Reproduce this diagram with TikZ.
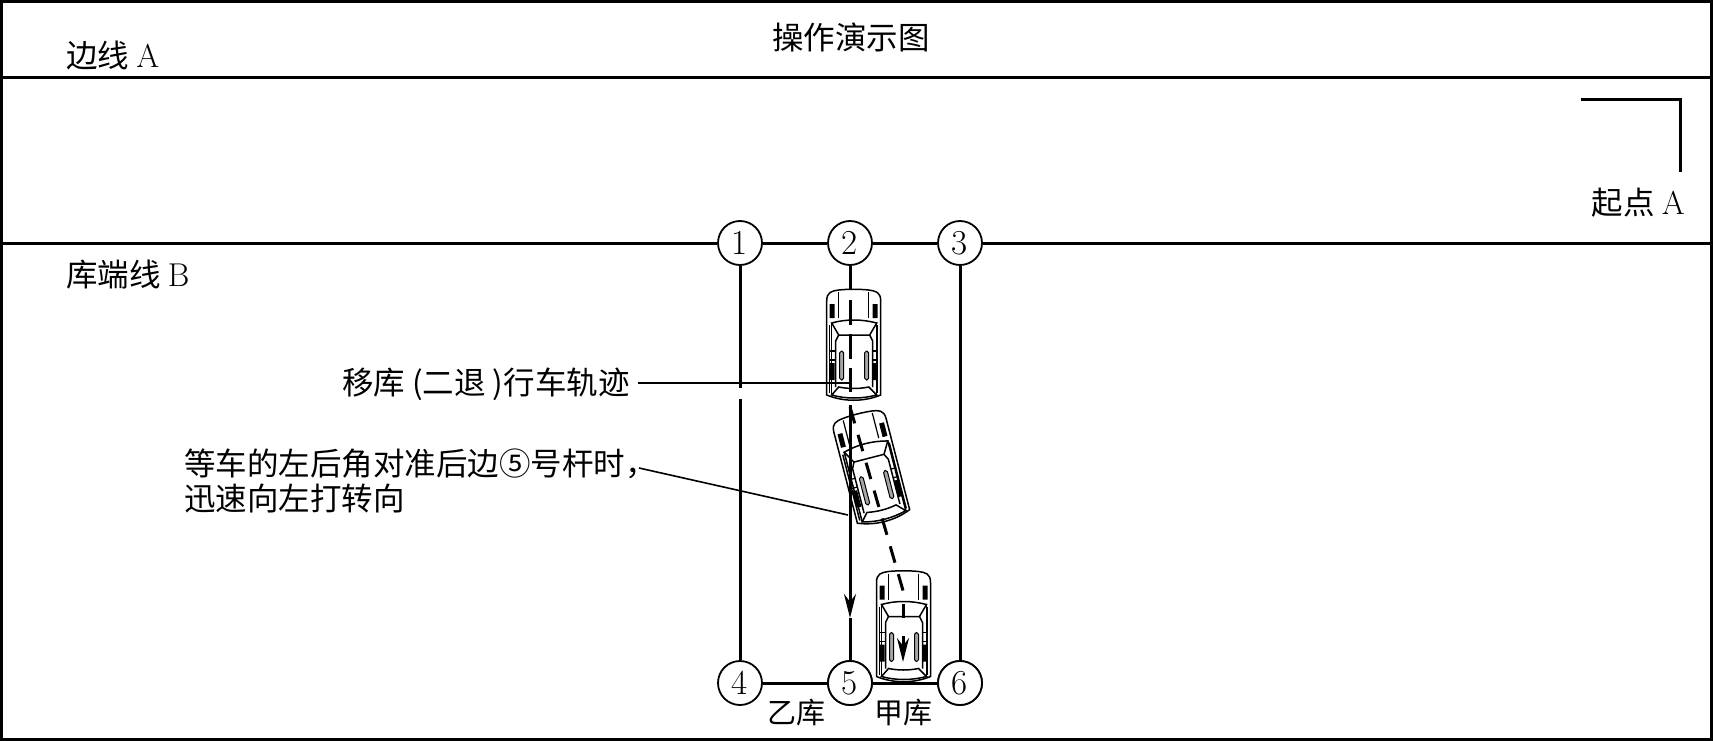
\documentclass[tikz,border=0pt]{standalone}
\usepackage{fontspec}
\newfontfamily\cjk{Noto Sans CJK SC}
\usetikzlibrary{arrows.meta}
\newcommand{\lat}[1]{{\rmfamily\fontsize{33}{35}\selectfont #1}}
\tikzset{
  lab/.style={font=\cjk\fontsize{31.5}{35}\selectfont, inner sep=0pt, align=left},
  labsmall/.style={font=\cjk\fontsize{29}{35}\selectfont, inner sep=0pt},
  post/.style={circle, draw, fill=white, line width=1.8pt, minimum size=44pt, inner sep=0pt, font=\fontsize{35}{35}\selectfont},
  wall/.style={line width=3pt},
  leader/.style={line width=1.6pt},
  trackA/.style={line width=3pt, dash pattern=on 25pt off 9pt},
  trackB/.style={line width=3pt, dash pattern=on 17pt off 12pt},
  headtip/.style={-{Stealth[length=24pt,width=12pt]}},
  car/.pic={
    \draw[line width=1.5pt, fill=white] (-27,48) -- (-27,-44) .. controls (-27,-53) and (-22,-54) .. (-15,-55) .. controls (-5,-56) and (5,-56) .. (15,-55) .. controls (22,-54) and (27,-53) .. (27,-44) -- (27,50) .. controls (10,57) and (-10,57) .. (-27,50) -- cycle;
    \draw[line width=1.2pt] (-15,-53) -- (-15,-27) (15,-53) -- (15,-27);
    \fill (-24,-41) rectangle (-19,-27) (19,-41) rectangle (24,-27) (-24,18) rectangle (-19,35) (19,18) rectangle (24,35);
    \draw[line width=1.5pt] (-24,-20) -- (-24,48) (24,-20) -- (24,48);
    \draw[line width=1.5pt] (-22,-22) .. controls (-8,-26) and (8,-26) .. (23,-22) -- (16,-10) -- (-15,-10) -- cycle;
    \draw[line width=1.5pt] (-22,-22) -- (-22,50) (23,-22) -- (23,50);
    \draw[line width=1.5pt] (-15,-10) -- (-18,-4) -- (-18,42) (16,-10) -- (19,-4) -- (19,42);
    \draw[line width=1.5pt] (-22,50) .. controls (-8,54) and (8,54) .. (23,50) -- (15,42) .. controls (5,44) and (-5,44) .. (-15,42) -- cycle;
    \draw[line width=1pt, fill=gray!70, rounded corners=1.8pt] (-14,6) rectangle (-10,35) (11,6) rectangle (15,35);
    \draw[line width=1.2pt] (-24,6) -- (-18,6) (-24,15) -- (-18,15) (24,6) -- (19,6) (24,15) -- (19,15);
  }
}
\begin{document}
\begin{tikzpicture}[x=1pt,y=-1pt]
\useasboundingbox (0,0) rectangle (1713,741);
\draw[wall] (1.5,1.5) rectangle (1711.5,739.5);

% posts
\node[post] (p1) at (740,243) {1};
\node[post] (p2) at (850,243) {2};
\node[post] (p3) at (960,243) {3};
\node[post] (p4) at (740,683) {4};
\node[post] (p5) at (850,683) {5};
\node[post] (p6) at (960,683) {6};

% named free ends
\coordinate (aL) at (0,77.5);
\coordinate (aR) at (1713,77.5);
\coordinate (bL) at (0,243);
\coordinate (bR) at (1713,243);
\coordinate (startA) at (1581,99.5);
\coordinate (startB) at (1680,99.5);
\coordinate (startC) at (1680,172);
\coordinate (gapT) at (740,388);
\coordinate (gapB) at (740,399);
\coordinate (carTop) at (850,292);
\coordinate (lineResume) at (850,405);
\coordinate (arrowEnd) at (850,618);
\coordinate (trA) at (850,300);
\coordinate (trB) at (850,392);
\coordinate (trB2) at (850,407);
\coordinate (trC) at (904,594);
\coordinate (trD) at (903,604);
\coordinate (trD2) at (903,618);
\coordinate (trD3) at (903,636);
\coordinate (trE) at (903,662);

% main lines
\draw[wall] (aL) -- (aR);
\draw[wall] (bL) -- (p1) (p1) -- (p2) (p2) -- (p3) (p3) -- (bR);
\draw[wall] (startA) -- (startB) -- (startC);
\draw[wall] (p1) -- (gapT) (gapB) -- (p4);
\draw[wall] (p3) -- (p6);
\draw[wall] (p4) -- (p5) (p5) -- (p6);
\draw[wall] (p2) -- (carTop);

% cars
\pic at (853.7,345) {car};
\pic[rotate=14.5] at (871,468) {car};
\pic at (903.5,626.5) {car};

% solid track on top of the second car
\draw[wall,headtip] (lineResume) -- (arrowEnd);
\draw[wall] (arrowEnd) -- (p5);

% dashed track
\draw[trackA] (trA) -- (trB);
\draw[trackB] (trB2) -- (trC);
\draw[wall] (trD) -- (trD2);
\draw[wall,headtip] (trD3) -- (trE);

% posts redrawn above car edges
\node[post] at (p5) {5};
\node[post] at (p6) {6};

% labels
\node[lab] (title) at (851,37) {操作演示图};
\node[lab,anchor=west] (edgeA) at (66,56) {边线 \lat{A}};
\node[lab,anchor=west] (edgeB) at (66,275) {库端线 \lat{B}};
\node[lab,anchor=east] (startlab) at (1685,203) {起点 \lat{A}};
\node[lab,anchor=west] (move) at (342,384) {移库 (二退 )行车轨迹};
\node[lab,anchor=west] (wait) at (184,481) {等车的左后角对准后边⑤号杆时，\\迅速向左打转向};
\node[labsmall] (yi) at (796,713) {乙库};
\node[labsmall] (jia) at (903.5,713) {甲库};

% leaders
\coordinate (moveStart) at (638,383);
\coordinate (moveEnd) at (850,383);
\coordinate (waitStart) at (639,468);
\coordinate (waitEnd) at (848,515);
\draw[leader] (moveStart) -- (moveEnd);
\draw[leader] (waitStart) -- (waitEnd);
\end{tikzpicture}
\end{document}
